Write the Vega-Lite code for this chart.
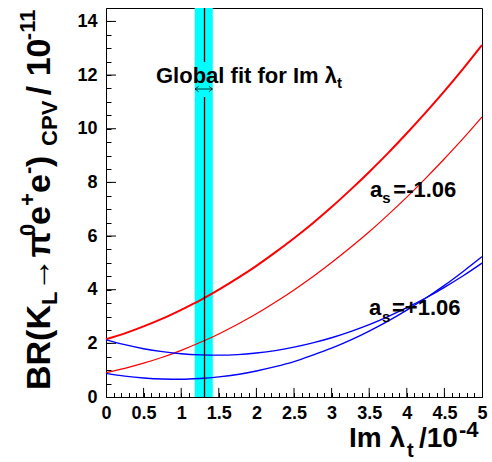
{
  "$schema": "https://vega.github.io/schema/vega-lite/v6.json",
  "width": 376,
  "height": 389,
  "autosize": {"type": "none"},
  "padding": {"left": 106, "top": 8, "right": 10, "bottom": 65},
  "background": "white",
  "config": {
    "view": {"stroke": "black", "strokeWidth": 1},
    "text": {"font": "Liberation Sans", "fontWeight": "bold", "color": "black"}
  },
  "datasets": {
    "band": [{"x": 1.18, "x2": 1.42, "y": 0, "y2": 14.5}],
    "fitline": [{"x": 1.31, "y": 0, "y2": 11.18}, {"x": 1.31, "y": 12.49, "y2": 14.5}],
    "arrowShaft": [{"x": 1.185, "x2": 1.415, "y": 11.48}],
    "arrowLeft": [{"x": 1.185, "y": 11.48}],
    "arrowRight": [{"x": 1.415, "y": 11.48}],
    "xMajor": [{"x": 0.5, "y": 0}, {"x": 1, "y": 0}, {"x": 1.5, "y": 0}, {"x": 2, "y": 0}, {"x": 2.5, "y": 0}, {"x": 3, "y": 0}, {"x": 3.5, "y": 0}, {"x": 4, "y": 0}, {"x": 4.5, "y": 0}],
    "yMajor": [{"x": 0, "y": 2}, {"x": 0, "y": 4}, {"x": 0, "y": 6}, {"x": 0, "y": 8}, {"x": 0, "y": 10}, {"x": 0, "y": 12}, {"x": 0, "y": 14}],
    "redUp": [
      {"x": 0, "y": 2.15}, {"x": 0.25, "y": 2.37}, {"x": 0.5, "y": 2.63}, {"x": 0.75, "y": 2.92}, {"x": 1, "y": 3.25},
      {"x": 1.25, "y": 3.6}, {"x": 1.5, "y": 4.0}, {"x": 1.75, "y": 4.43}, {"x": 2, "y": 4.89}, {"x": 2.25, "y": 5.39},
      {"x": 2.5, "y": 5.92}, {"x": 2.75, "y": 6.48}, {"x": 3, "y": 7.08}, {"x": 3.25, "y": 7.72}, {"x": 3.5, "y": 8.39},
      {"x": 3.75, "y": 9.09}, {"x": 4, "y": 9.83}, {"x": 4.25, "y": 10.6}, {"x": 4.5, "y": 11.4}, {"x": 4.75, "y": 12.24},
      {"x": 5, "y": 13.12}
    ],
    "redLo": [
      {"x": 0, "y": 0.91}, {"x": 0.25, "y": 1.07}, {"x": 0.5, "y": 1.26}, {"x": 0.75, "y": 1.48}, {"x": 1, "y": 1.74},
      {"x": 1.25, "y": 2.03}, {"x": 1.5, "y": 2.35}, {"x": 1.75, "y": 2.71}, {"x": 2, "y": 3.1}, {"x": 2.25, "y": 3.53},
      {"x": 2.5, "y": 3.99}, {"x": 2.75, "y": 4.48}, {"x": 3, "y": 5.01}, {"x": 3.25, "y": 5.57}, {"x": 3.5, "y": 6.16},
      {"x": 3.75, "y": 6.79}, {"x": 4, "y": 7.45}, {"x": 4.25, "y": 8.15}, {"x": 4.5, "y": 8.88}, {"x": 4.75, "y": 9.64},
      {"x": 5, "y": 10.44}
    ],
    "bluUp": [
      {"x": 0, "y": 2.13}, {"x": 0.25, "y": 1.95}, {"x": 0.5, "y": 1.8}, {"x": 0.75, "y": 1.69}, {"x": 1, "y": 1.61},
      {"x": 1.25, "y": 1.57}, {"x": 1.5, "y": 1.56}, {"x": 1.75, "y": 1.58}, {"x": 2, "y": 1.64}, {"x": 2.25, "y": 1.73},
      {"x": 2.5, "y": 1.86}, {"x": 2.75, "y": 2.02}, {"x": 3, "y": 2.21}, {"x": 3.25, "y": 2.44}, {"x": 3.5, "y": 2.7},
      {"x": 3.75, "y": 3.0}, {"x": 4, "y": 3.33}, {"x": 4.25, "y": 3.69}, {"x": 4.5, "y": 4.09}, {"x": 4.75, "y": 4.52},
      {"x": 5, "y": 4.99}
    ],
    "bluLo": [
      {"x": 0, "y": 0.88}, {"x": 0.25, "y": 0.78}, {"x": 0.5, "y": 0.71}, {"x": 0.75, "y": 0.67}, {"x": 1, "y": 0.66},
      {"x": 1.25, "y": 0.69}, {"x": 1.5, "y": 0.75}, {"x": 1.75, "y": 0.84}, {"x": 2, "y": 0.97}, {"x": 2.25, "y": 1.13},
      {"x": 2.5, "y": 1.32}, {"x": 2.75, "y": 1.56}, {"x": 3, "y": 1.82}, {"x": 3.25, "y": 2.12}, {"x": 3.5, "y": 2.46},
      {"x": 3.75, "y": 2.83}, {"x": 4, "y": 3.24}, {"x": 4.25, "y": 3.68}, {"x": 4.5, "y": 4.16}, {"x": 4.75, "y": 4.68},
      {"x": 5, "y": 5.23}
    ],
    "yTitleBig": [
      {"t": "BR(K", "x": -0.745, "y": 0.26},
      {"t": "→π", "x": -0.745, "y": 3.93},
      {"t": "e", "x": -0.745, "y": 6.41},
      {"t": "e", "x": -0.745, "y": 7.6},
      {"t": " )", "x": -0.745, "y": 8.57},
      {"t": "/ 10", "x": -0.745, "y": 11.25}
    ],
    "yTitleSub": [
      {"t": "L", "x": -0.652, "y": 3.43},
      {"t": "CPV", "x": -0.652, "y": 9.36}
    ],
    "yTitleSup": [
      {"t": "0", "x": -0.944, "y": 6.0},
      {"t": "+", "x": -0.944, "y": 7.12},
      {"t": "-", "x": -0.944, "y": 8.31},
      {"t": "-11", "x": -0.944, "y": 13.3}
    ],
    "xTitleBig": [
      {"t": "Im λ", "x": 3.231, "y": -1.864},
      {"t": "/10", "x": 4.162, "y": -1.864}
    ],
    "xTitleSub": [{"t": "t", "x": 4.003, "y": -2.236}],
    "xTitleSup": [{"t": "-4", "x": 4.694, "y": -1.491}],
    "labels": [
      {"t": "Global fit for Im λ", "x": 0.665, "y": 11.7},
      {"t": "a", "x": 3.511, "y": 7.466},
      {"t": "=-1.06", "x": 3.821, "y": 7.466},
      {"t": "a", "x": 3.497, "y": 3.056},
      {"t": "=+1.06", "x": 3.803, "y": 3.056}
    ],
    "labelSubs": [
      {"t": "t", "x": 3.072, "y": 11.52},
      {"t": "s", "x": 3.673, "y": 7.23},
      {"t": "s", "x": 3.67, "y": 2.795}
    ]
  },
  "encoding": {
    "x": {
      "field": "x", "type": "quantitative",
      "scale": {"domain": [0, 5], "nice": false, "zero": false},
      "axis": {
        "title": null, "grid": false,
        "values": [0,0.1,0.2,0.3,0.4,0.5,0.6,0.7,0.8,0.9,1,1.1,1.2,1.3,1.4,1.5,1.6,1.7,1.8,1.9,2,2.1,2.2,2.3,2.4,2.5,2.6,2.7,2.8,2.9,3,3.1,3.2,3.3,3.4,3.5,3.6,3.7,3.8,3.9,4,4.1,4.2,4.3,4.4,4.5,4.6,4.7,4.8,4.9,5],
        "labelExpr": "abs(datum.value*2 - round(datum.value*2)) < 0.001 ? format(datum.value, '~g') : ''",
        "labelFont": "Liberation Sans", "labelFontWeight": "bold", "labelFontSize": 18, "labelColor": "black",
        "labelFlush": false, "labelOverlap": false, "labelPadding": 11.5, "labelBaseline": "top",
        "ticks": true, "tickSize": -4.5, "tickColor": "black", "tickWidth": 1,
        "domainColor": "black", "domainWidth": 1
      }
    },
    "y": {
      "field": "y", "type": "quantitative",
      "scale": {"domain": [0, 14.5], "nice": false, "zero": false},
      "axis": {
        "title": null, "grid": false,
        "values": [0,0.5,1,1.5,2,2.5,3,3.5,4,4.5,5,5.5,6,6.5,7,7.5,8,8.5,9,9.5,10,10.5,11,11.5,12,12.5,13,13.5,14],
        "labelExpr": "abs(datum.value/2 - round(datum.value/2)) < 0.001 ? format(datum.value, 'd') : ''",
        "labelFont": "Liberation Sans", "labelFontWeight": "bold", "labelFontSize": 18, "labelColor": "black",
        "labelFlush": false, "labelOverlap": false, "labelPadding": 14,
        "ticks": true, "tickSize": -5, "tickColor": "black", "tickWidth": 1,
        "domainColor": "black", "domainWidth": 1
      }
    }
  },
  "layer": [
    {
      "data": {"name": "band"},
      "mark": {"type": "rect", "color": "#00ffff"},
      "encoding": {"x2": {"field": "x2"}, "y2": {"field": "y2"}}
    },
    {
      "data": {"name": "xMajor"},
      "mark": {"type": "rule", "color": "black", "strokeWidth": 1},
      "encoding": {"y2": {"datum": 0.34}}
    },
    {
      "data": {"name": "yMajor"},
      "mark": {"type": "rule", "color": "black", "strokeWidth": 1},
      "encoding": {"x2": {"datum": 0.133}}
    },
    {
      "data": {"name": "redUp"},
      "mark": {"type": "line", "color": "#ff0000", "strokeWidth": 2, "interpolate": "monotone"}
    },
    {
      "data": {"name": "redLo"},
      "mark": {"type": "line", "color": "#ff0000", "strokeWidth": 1.2, "interpolate": "monotone"}
    },
    {
      "data": {"name": "bluUp"},
      "mark": {"type": "line", "color": "#0000ff", "strokeWidth": 1.4, "interpolate": "monotone"}
    },
    {
      "data": {"name": "bluLo"},
      "mark": {"type": "line", "color": "#0000ff", "strokeWidth": 1.4, "interpolate": "monotone"}
    },
    {
      "data": {"name": "fitline"},
      "mark": {"type": "rule", "color": "black", "strokeWidth": 1.3},
      "encoding": {"y2": {"field": "y2"}}
    },
    {
      "data": {"name": "arrowShaft"},
      "mark": {"type": "rule", "color": "black", "strokeWidth": 0.8},
      "encoding": {"x2": {"field": "x2"}}
    },
    {
      "data": {"name": "arrowLeft"},
      "mark": {"type": "point", "shape": "M 1.3 -1 L 0 0 L 1.3 1", "filled": false, "stroke": "black", "strokeWidth": 0.8, "size": 30, "opacity": 1}
    },
    {
      "data": {"name": "arrowRight"},
      "mark": {"type": "point", "shape": "M -1.3 -1 L 0 0 L -1.3 1", "filled": false, "stroke": "black", "strokeWidth": 0.8, "size": 30, "opacity": 1}
    },
    {
      "data": {"name": "yTitleBig"},
      "mark": {"type": "text", "angle": 270, "align": "left", "baseline": "alphabetic", "fontSize": 34},
      "encoding": {"text": {"field": "t"}}
    },
    {
      "data": {"name": "yTitleSub"},
      "mark": {"type": "text", "angle": 270, "align": "left", "baseline": "alphabetic", "fontSize": 22},
      "encoding": {"text": {"field": "t"}}
    },
    {
      "data": {"name": "yTitleSup"},
      "mark": {"type": "text", "angle": 270, "align": "left", "baseline": "alphabetic", "fontSize": 22},
      "encoding": {"text": {"field": "t"}}
    },
    {
      "data": {"name": "xTitleBig"},
      "mark": {"type": "text", "align": "left", "baseline": "alphabetic", "fontSize": 28},
      "encoding": {"text": {"field": "t"}}
    },
    {
      "data": {"name": "xTitleSub"},
      "mark": {"type": "text", "align": "left", "baseline": "alphabetic", "fontSize": 20},
      "encoding": {"text": {"field": "t"}}
    },
    {
      "data": {"name": "xTitleSup"},
      "mark": {"type": "text", "align": "left", "baseline": "alphabetic", "fontSize": 22},
      "encoding": {"text": {"field": "t"}}
    },
    {
      "data": {"name": "labels"},
      "mark": {"type": "text", "align": "left", "baseline": "alphabetic", "fontSize": 22},
      "encoding": {"text": {"field": "t"}}
    },
    {
      "data": {"name": "labelSubs"},
      "mark": {"type": "text", "align": "left", "baseline": "alphabetic", "fontSize": 15},
      "encoding": {"text": {"field": "t"}}
    }
  ]
}
